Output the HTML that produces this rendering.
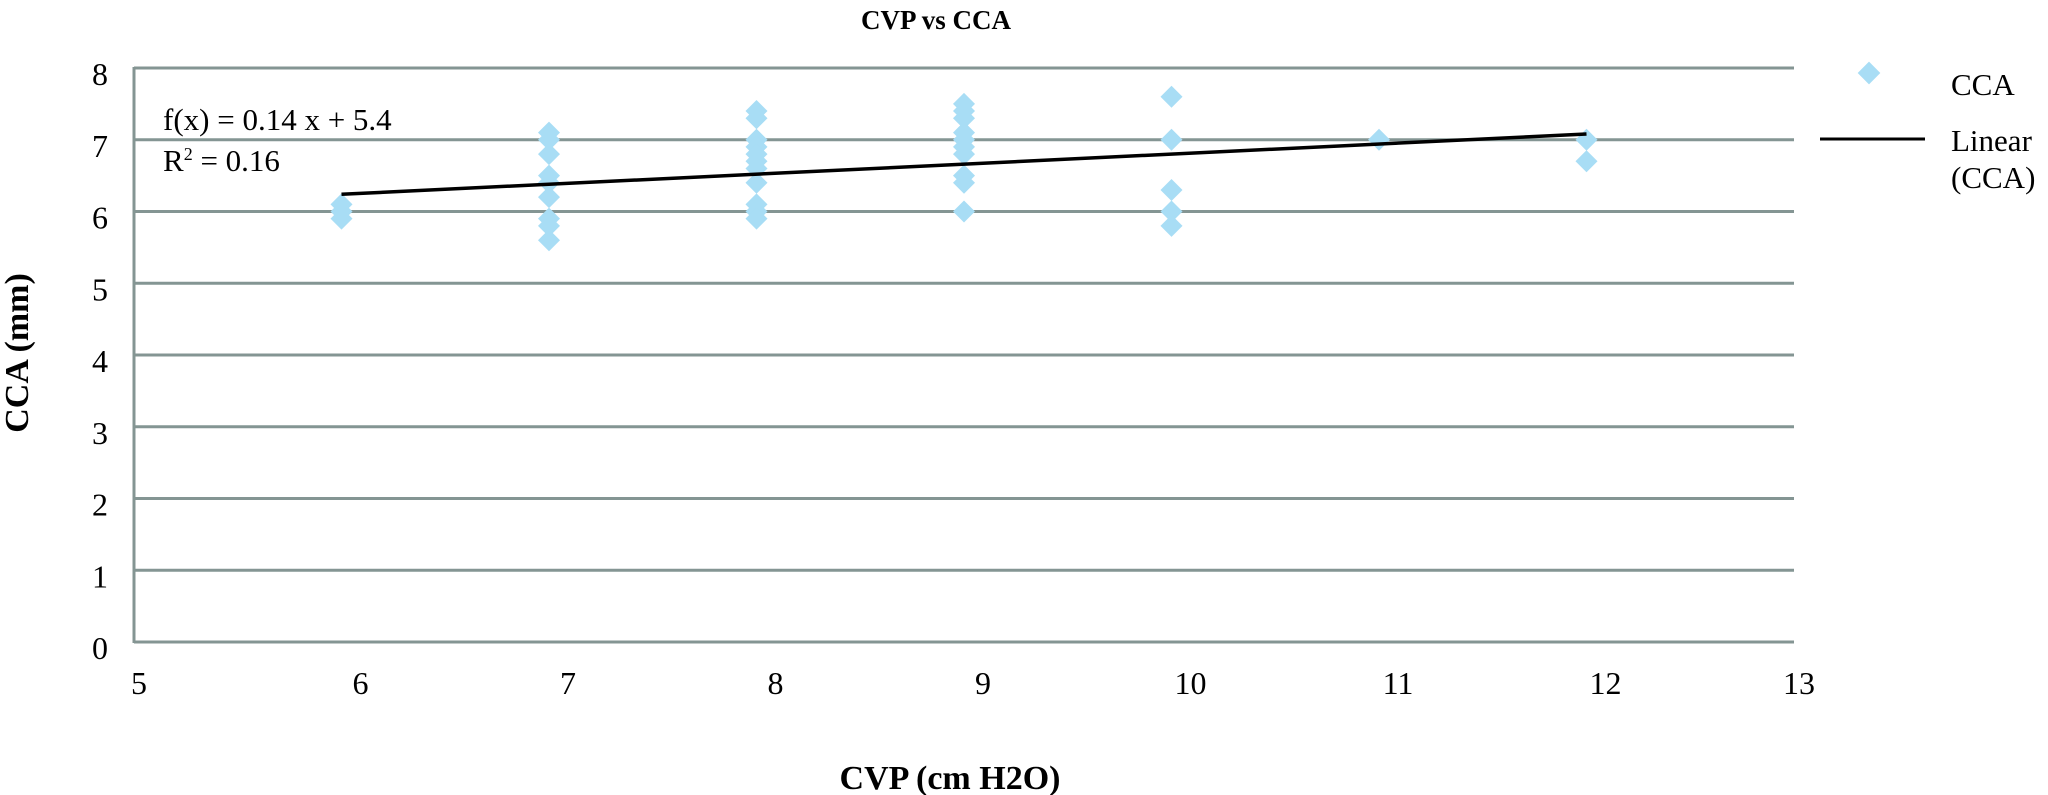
<!DOCTYPE html>
<html><head><meta charset="utf-8"><style>
html,body{margin:0;padding:0;background:#fff;}
svg{display:block;font-family:"Liberation Serif",serif;}
</style></head><body>
<svg id="chart" width="2048" height="795" viewBox="0 0 2048 795">
<text x="936" y="29" text-anchor="middle" font-size="27" font-weight="bold">CVP vs CCA</text>
<text transform="translate(28,353) rotate(-90)" text-anchor="middle" font-size="34" font-weight="bold">CCA (mm)</text>
<text x="950" y="789" text-anchor="middle" font-size="34" font-weight="bold">CVP (cm H2O)</text>
<g id="grid"></g>
<g id="marks"></g>
<text x="163" y="130" font-size="31">f(x) = 0.14 x + 5.4</text>
<text x="163" y="171" font-size="31">R<tspan font-size="18" dy="-11">2</tspan><tspan dy="11"> = 0.16</tspan></text>
<g>
<rect x="1861" y="65" width="16" height="16" fill="#a8ddf5" transform="rotate(45 1869 73)"/>
<text x="1951" y="95" font-size="31">CCA</text>
<line x1="1820" y1="139" x2="1925" y2="139" stroke="#000" stroke-width="3"/>
<text x="1951" y="151" font-size="31">Linear</text>
<text x="1951" y="188" font-size="31">(CCA)</text>
</g>
</svg>
<script>
const xTicks = [5,6,7,8,9,10,11,12,13];
const yTicks = [0,1,2,3,4,5,6,7,8];
const cvpValues = [6,6,6, 7,7,7,7,7,7,7,7,7, 8,8,8,8,8,8,8,8,8,8,8, 9,9,9,9,9,9,9,9,9,9, 10,10,10,10,10, 11, 12,12];
const ccaValues = [6.1,6.0,5.9, 7.1,7.0,6.8,6.5,6.4,6.2,5.9,5.8,5.6, 7.4,7.3,7.0,6.9,6.8,6.7,6.6,6.4,6.1,6.0,5.9, 7.5,7.4,7.3,7.1,7.0,6.9,6.8,6.5,6.4,6.0, 7.6,7.0,6.3,6.0,5.8, 7.0, 7.0,6.7];
const trendSlope = 0.14, trendIntercept = 5.4;

const X0=134, X1=1794, Y0=642, Y1=68;
const xMin=5,xMax=13,yMin=0,yMax=8;
const sx = v => X0 + (v-xMin)/(xMax-xMin)*(X1-X0);
const sy = v => Y0 - (v-yMin)/(yMax-yMin)*(Y0-Y1);
const NS="http://www.w3.org/2000/svg";
const grid=document.getElementById('grid'), marks=document.getElementById('marks');
function mk(tag,attrs,parent){const e=document.createElementNS(NS,tag);for(const k in attrs)e.setAttribute(k,attrs[k]);parent.appendChild(e);return e;}

yTicks.forEach(t=>{
  const l=mk('line',{x1:X0,x2:X1,y1:sy(t),y2:sy(t),stroke:'#849593','stroke-width':3},grid);
  
  
  const tx=mk('text',{x:100,y:sy(t)+17,'text-anchor':'middle','font-size':32},grid);
  tx.textContent=t;
  
  
});
const ax=mk('line',{x1:X0,x2:X0,y1:Y1-1,y2:Y0+1,stroke:'#849593','stroke-width':3},grid);


xTicks.forEach((t,i)=>{
  const off=(i===0||i===xTicks.length-1)?5:19;
  const tx=mk('text',{x:sx(t)+off,y:694,'text-anchor':'middle','font-size':32},grid);
  tx.textContent=t;
  
  
});
cvpValues.forEach((v,i)=>{
  const cx=sx(v), cy=sy(ccaValues[i]);
  const p=mk('polygon',{points:`${cx},${cy-11} ${cx+11},${cy} ${cx},${cy+11} ${cx-11},${cy}`,fill:'#a8ddf5'},marks);
  
  
});
const xs=Math.min(...cvpValues), xe=Math.max(...cvpValues);
const tl=mk('line',{x1:sx(xs),y1:sy(trendSlope*xs+trendIntercept),x2:sx(xe),y2:sy(trendSlope*xe+trendIntercept),stroke:'#000','stroke-width':3.5},marks);


</script>
</body></html>
